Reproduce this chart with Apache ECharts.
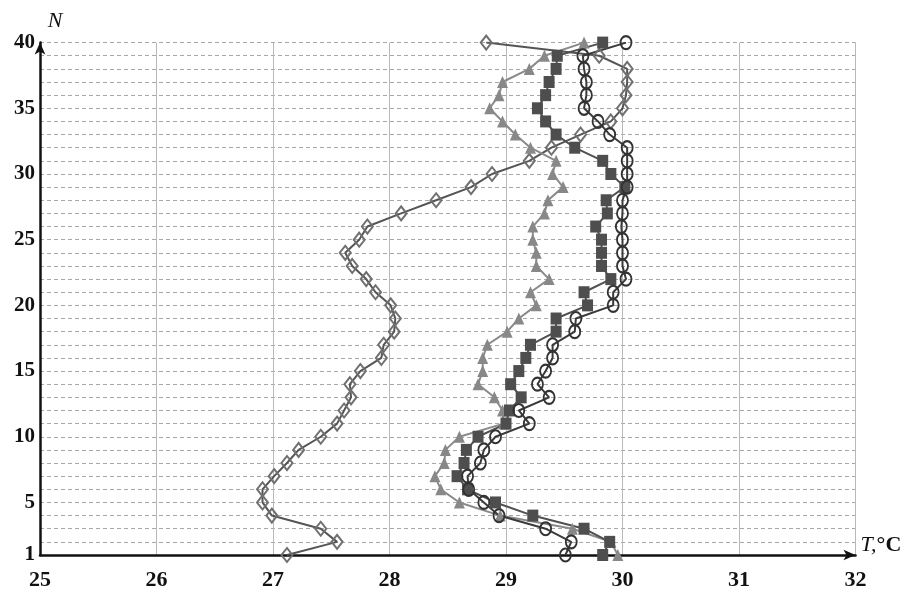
<!DOCTYPE html>
<html>
<head>
<meta charset="utf-8">
<script src="https://cdn.jsdelivr.net/npm/echarts@6/dist/echarts.min.js"></script>
<style>
html,body{margin:0;padding:0;background:#fff;}
#chart{width:910px;height:591px;}
</style>
</head>
<body>
<div id="chart"></div>
<script>
// Layer number N (y axis)
var layers = [];
for (var i = 1; i <= 40; i++) layers.push(i);

// Temperature T, °C for each series, N = 1..40
var tDiamond = [27.12, 27.55, 27.41, 26.99, 26.91, 26.91, 27.01, 27.12, 27.22, 27.41,
                27.55, 27.61, 27.67, 27.66, 27.75, 27.93, 27.95, 28.04, 28.05, 28.01,
                27.88, 27.80, 27.68, 27.62, 27.74, 27.81, 28.10, 28.40, 28.70, 28.88,
                29.20, 29.39, 29.64, 29.90, 30.00, 30.03, 30.04, 30.04, 29.80, 28.83];
var tTriangle = [29.96, 29.90, 29.57, 28.95, 28.60, 28.44, 28.39, 28.47, 28.48, 28.60,
                 28.98, 28.97, 28.90, 28.76, 28.80, 28.80, 28.84, 29.01, 29.11, 29.26,
                 29.21, 29.37, 29.26, 29.26, 29.23, 29.23, 29.33, 29.36, 29.49, 29.40,
                 29.43, 29.21, 29.08, 28.97, 28.86, 28.94, 28.97, 29.20, 29.33, 29.67];
var tSquare = [29.83, 29.89, 29.67, 29.23, 28.91, 28.67, 28.58, 28.64, 28.66, 28.76,
               29.00, 29.03, 29.13, 29.04, 29.11, 29.17, 29.21, 29.43, 29.43, 29.70,
               29.67, 29.90, 29.82, 29.82, 29.82, 29.77, 29.87, 29.86, 30.02, 29.90,
               29.83, 29.59, 29.43, 29.34, 29.27, 29.34, 29.37, 29.43, 29.44, 29.83];
var tCircle = [29.51, 29.56, 29.34, 28.94, 28.81, 28.68, 28.67, 28.78, 28.81, 28.91,
               29.20, 29.11, 29.37, 29.27, 29.34, 29.40, 29.40, 29.59, 29.60, 29.92,
               29.92, 30.03, 30.00, 30.00, 30.00, 29.99, 30.00, 30.00, 30.04, 30.04,
               30.04, 30.04, 29.89, 29.79, 29.67, 29.69, 29.69, 29.67, 29.66, 30.03];

var yLabels = [1, 5, 10, 15, 20, 25, 30, 35, 40];

function pairs(t) {
  return t.map(function (v, i) { return [v, layers[i]]; });
}

var serif = '"Liberation Serif", "DejaVu Serif", serif';
var chart = echarts.init(document.getElementById('chart'), null, {renderer: 'canvas'});

function lineSeries(name, data, symbol, size, color, fill, lineColor) {
  return {
    name: name,
    type: 'line',
    data: pairs(data),
    symbol: symbol,
    symbolSize: size,
    showAllSymbol: true,
    smooth: false,
    lineStyle: {color: lineColor, width: 2},
    itemStyle: {color: fill, borderColor: color, borderWidth: fill === 'transparent' ? 2 : 0},
    emphasis: {disabled: true},
    animation: false
  };
}

chart.setOption({
  animation: false,
  backgroundColor: '#ffffff',
  grid: {left: 40, right: 54.5, top: 42.6, bottom: 35.8, containLabel: false},
  xAxis: {
    type: 'value',
    min: 25, max: 32, interval: 1,
    name: '{t|T,}{c|°C}',
    nameLocation: 'end',
    nameGap: 5,
    nameTextStyle: {
      padding: [0, 0, 20, 0],
      rich: {
        t: {fontFamily: serif, fontStyle: 'italic', fontSize: 22, color: '#111'},
        c: {fontFamily: serif, fontWeight: 'bold', fontSize: 22, color: '#111'}
      }
    },
    axisLine: {show: true, lineStyle: {color: '#111', width: 2.5}, symbol: ['none', 'arrow'], symbolSize: [8, 12]},
    axisTick: {show: false},
    axisLabel: {fontFamily: serif, fontWeight: 'bold', fontSize: 22, color: '#111', margin: 14},
    splitLine: {show: true, lineStyle: {color: '#b8b8b8', width: 1}}
  },
  yAxis: {
    type: 'value',
    min: 1, max: 40, interval: 1,
    name: 'N',
    nameLocation: 'end',
    nameGap: 10,
    nameTextStyle: {fontFamily: serif, fontStyle: 'italic', fontSize: 22, color: '#111', padding: [0, 0, 0, 30]},
    axisLine: {show: true, lineStyle: {color: '#111', width: 2.5}, symbol: ['none', 'arrow'], symbolSize: [8, 12]},
    axisTick: {show: false},
    axisLabel: {
      fontFamily: serif, fontWeight: 'bold', fontSize: 21, color: '#111', margin: 5,
      formatter: function (v) { return yLabels.indexOf(v) >= 0 ? String(v) : ''; }
    },
    splitLine: {show: true, lineStyle: {color: '#a8a8a8', width: 1, type: [4, 3]}}
  },
  series: [
    lineSeries('diamond', tDiamond, 'diamond', [11, 14], '#707070', 'transparent', '#555555'),
    lineSeries('triangle', tTriangle, 'triangle', [11, 12], '#888888', '#888888', '#8a8a8a'),
    lineSeries('square', tSquare, 'rect', [11, 12], '#4e4e4e', '#4e4e4e', '#505050'),
    lineSeries('circle', tCircle, 'circle', [11, 13], '#333333', 'transparent', '#3a3a3a')
  ]
});
</script>
</body>
</html>
